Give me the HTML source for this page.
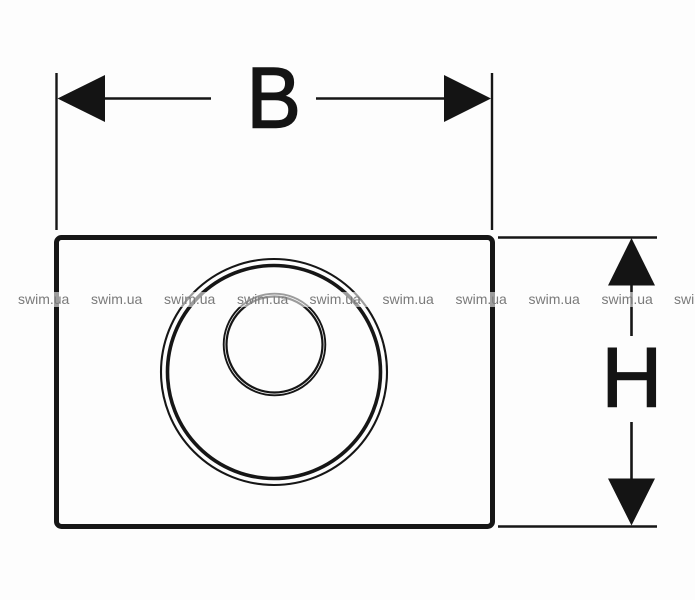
<!DOCTYPE html>
<html>
<head>
<meta charset="utf-8">
<style>
html,body{margin:0;padding:0;background:#fdfdfd;width:695px;height:600px;overflow:hidden}
svg{display:block;filter:blur(0.35px)}
</style>
</head>
<body>
<svg width="695" height="600" viewBox="0 0 695 600" xmlns="http://www.w3.org/2000/svg">
<rect width="695" height="600" fill="#fdfdfd"/>
<g fill="none" stroke="#161616">
  <line x1="56.500" y1="73" x2="56.500" y2="230" stroke-width="2.400"/>
  <line x1="492" y1="73" x2="492" y2="230" stroke-width="2.400"/>
  <line x1="100" y1="98.500" x2="211" y2="98.500" stroke-width="2.600"/>
  <line x1="316" y1="98.500" x2="450" y2="98.500" stroke-width="2.600"/>
  <line x1="498" y1="237.500" x2="657" y2="237.500" stroke-width="2.400"/>
  <line x1="498" y1="526.500" x2="657" y2="526.500" stroke-width="2.400"/>
  <line x1="631.500" y1="280" x2="631.500" y2="336" stroke-width="2.600"/>
  <line x1="631.500" y1="422" x2="631.500" y2="485" stroke-width="2.600"/>
  <rect x="56.500" y="237.500" width="436" height="289" rx="5" ry="5" stroke-width="5"/>
  <circle cx="274" cy="372" r="113" stroke-width="2.100"/>
  <circle cx="274" cy="372" r="106.500" stroke-width="3.600"/>
  <circle cx="274.500" cy="344.500" r="50.800" stroke-width="1.900"/>
  <circle cx="274.500" cy="344.500" r="48" stroke-width="2.200"/>
</g>
<g fill="#141414" stroke="#141414" stroke-width="1.500" font-family="'Liberation Sans',Arial,sans-serif">
  <text transform="translate(246.500,127.500) scale(0.95,1)" font-size="86">B</text>
  <text transform="translate(601.500,406.500)" font-size="84">H</text>
</g>
<g fill="#141414">
  <polygon points="57.500,98.500 105,75 105,122"/>
  <polygon points="491,98.500 444,75 444,122"/>
  <polygon points="631.500,238 608,285.500 655,285.500"/>
  <polygon points="631.500,525.500 608,478.500 655,478.500"/>
</g>
<rect x="0" y="292" width="695" height="15" fill="#fdfdfd" opacity="0.58"/>
<g font-family="'Liberation Sans',Arial,sans-serif" font-size="14" fill="#7a7a7a">
  <text x="18" y="304">swim.ua</text>
  <text x="91" y="304">swim.ua</text>
  <text x="164" y="304">swim.ua</text>
  <text x="237" y="304">swim.ua</text>
  <text x="309.500" y="304">swim.ua</text>
  <text x="382.500" y="304">swim.ua</text>
  <text x="455.500" y="304">swim.ua</text>
  <text x="528.500" y="304">swim.ua</text>
  <text x="601.500" y="304">swim.ua</text>
  <text x="674" y="304">swim.ua</text>
</g>
</svg>
</body>
</html>
